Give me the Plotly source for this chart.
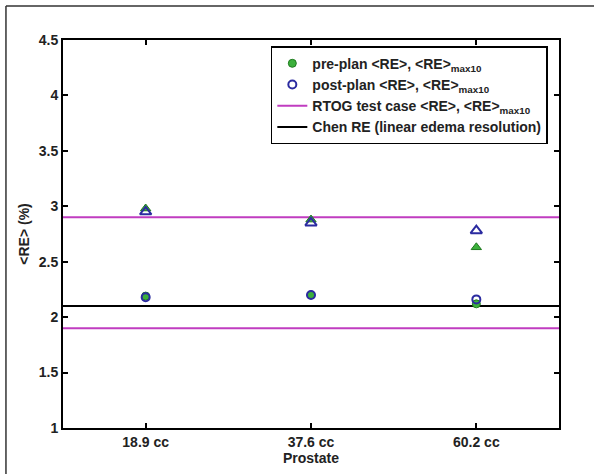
import plotly.graph_objects as go

categories = ["18.9 cc", "37.6 cc", "60.2 cc"]
cat_pos = [1, 2, 3]
pre_mean = [2.19, 2.20, 2.12]
post_mean = [2.18, 2.20, 2.16]
pre_max10 = [2.98, 2.88, 2.63]
post_max10 = [2.95, 2.85, 2.78]
rtog_values = [2.90, 1.90]
chen_value = 2.10
x_range = [0.5, 3.5]
y_ticks = [1, 1.5, 2, 2.5, 3, 3.5, 4, 4.5]

GREEN = "#3cb03c"
GREEN_EDGE = "#1f7a1f"
BLUE = "#2b2ba0"
MAGENTA = "#c03cc0"
FONT = "Liberation Sans, Arial, sans-serif"

fig = go.Figure()

for i, v in enumerate(rtog_values):
    fig.add_trace(go.Scatter(
        x=x_range, y=[v, v], mode="lines",
        line=dict(color=MAGENTA, width=2),
        name="RTOG test case &lt;RE&gt;, &lt;RE&gt;<sub>max10</sub>",
        showlegend=(i == 0), legendrank=3,
    ))
fig.add_trace(go.Scatter(
    x=x_range, y=[chen_value, chen_value], mode="lines",
    line=dict(color="black", width=2),
    name="Chen RE (linear edema resolution)", legendrank=4,
))

fig.add_trace(go.Scatter(
    x=cat_pos, y=pre_mean, mode="markers",
    marker=dict(symbol="circle", size=8, color=GREEN, line=dict(color=GREEN_EDGE, width=1)),
    name="pre-plan &lt;RE&gt;, &lt;RE&gt;<sub>max10</sub>", legendrank=1,
))
fig.add_trace(go.Scatter(
    x=cat_pos, y=pre_max10, mode="markers",
    marker=dict(symbol="triangle-up", size=9, color=GREEN, line=dict(color=GREEN_EDGE, width=1)),
    showlegend=False,
))
fig.add_trace(go.Scatter(
    x=cat_pos, y=post_mean, mode="markers",
    marker=dict(symbol="circle-open", size=8, color=BLUE, line=dict(color=BLUE, width=2)),
    name="post-plan &lt;RE&gt;, &lt;RE&gt;<sub>max10</sub>", legendrank=2,
))
fig.add_trace(go.Scatter(
    x=cat_pos, y=post_max10, mode="markers",
    marker=dict(symbol="triangle-up-open", size=10, color=BLUE, line=dict(color=BLUE, width=2)),
    showlegend=False,
))

fig.update_layout(
    width=594, height=474,
    margin=dict(l=63, r=35, t=40, b=46),
    paper_bgcolor="white", plot_bgcolor="white",
    font=dict(family=FONT, size=14, color="#222222", weight="bold"),
    showlegend=True,
    legend=dict(
        x=0.419, y=0.984, xanchor="left", yanchor="top",
        bordercolor="black", borderwidth=1.5, bgcolor="white",
        font=dict(family=FONT, size=14, color="#222222", weight="bold"),
        tracegroupgap=0, itemwidth=30,
    ),
    xaxis=dict(
        range=x_range, tickmode="array", tickvals=cat_pos, ticktext=categories,
        showgrid=False, zeroline=False,
        showline=True, linecolor="black", linewidth=2, mirror="ticks",
        ticks="inside", ticklen=5, tickwidth=1.5, tickcolor="black",
        title=dict(text="Prostate", standoff=2, font=dict(size=14, weight="bold")),
        tickfont=dict(size=14, weight="bold"),
    ),
    yaxis=dict(
        range=[1, 4.5], tickmode="array", tickvals=y_ticks,
        showgrid=False, zeroline=False,
        showline=True, linecolor="black", linewidth=2, mirror="ticks",
        ticks="inside", ticklen=5, tickwidth=1.5, tickcolor="black",
        title=dict(text="&lt;RE&gt; (%)", standoff=6, font=dict(size=14, weight="bold")),
        tickfont=dict(size=14, weight="bold"),
    ),
    shapes=[
        dict(type="line", xref="paper", yref="paper", x0=-0.115, x1=1.0706, y0=1.0876, y1=1.0876,
             line=dict(color="#333333", width=1.5)),
        dict(type="line", xref="paper", yref="paper", x0=-0.115, x1=-0.115, y0=1.0876, y1=-0.1186,
             line=dict(color="#333333", width=1.5)),
    ],
)

fig.write_html(
    "out.html",
    config={"displayModeBar": False},
    post_script="document.body.style.margin='0px';document.body.style.overflow='hidden';",
)
